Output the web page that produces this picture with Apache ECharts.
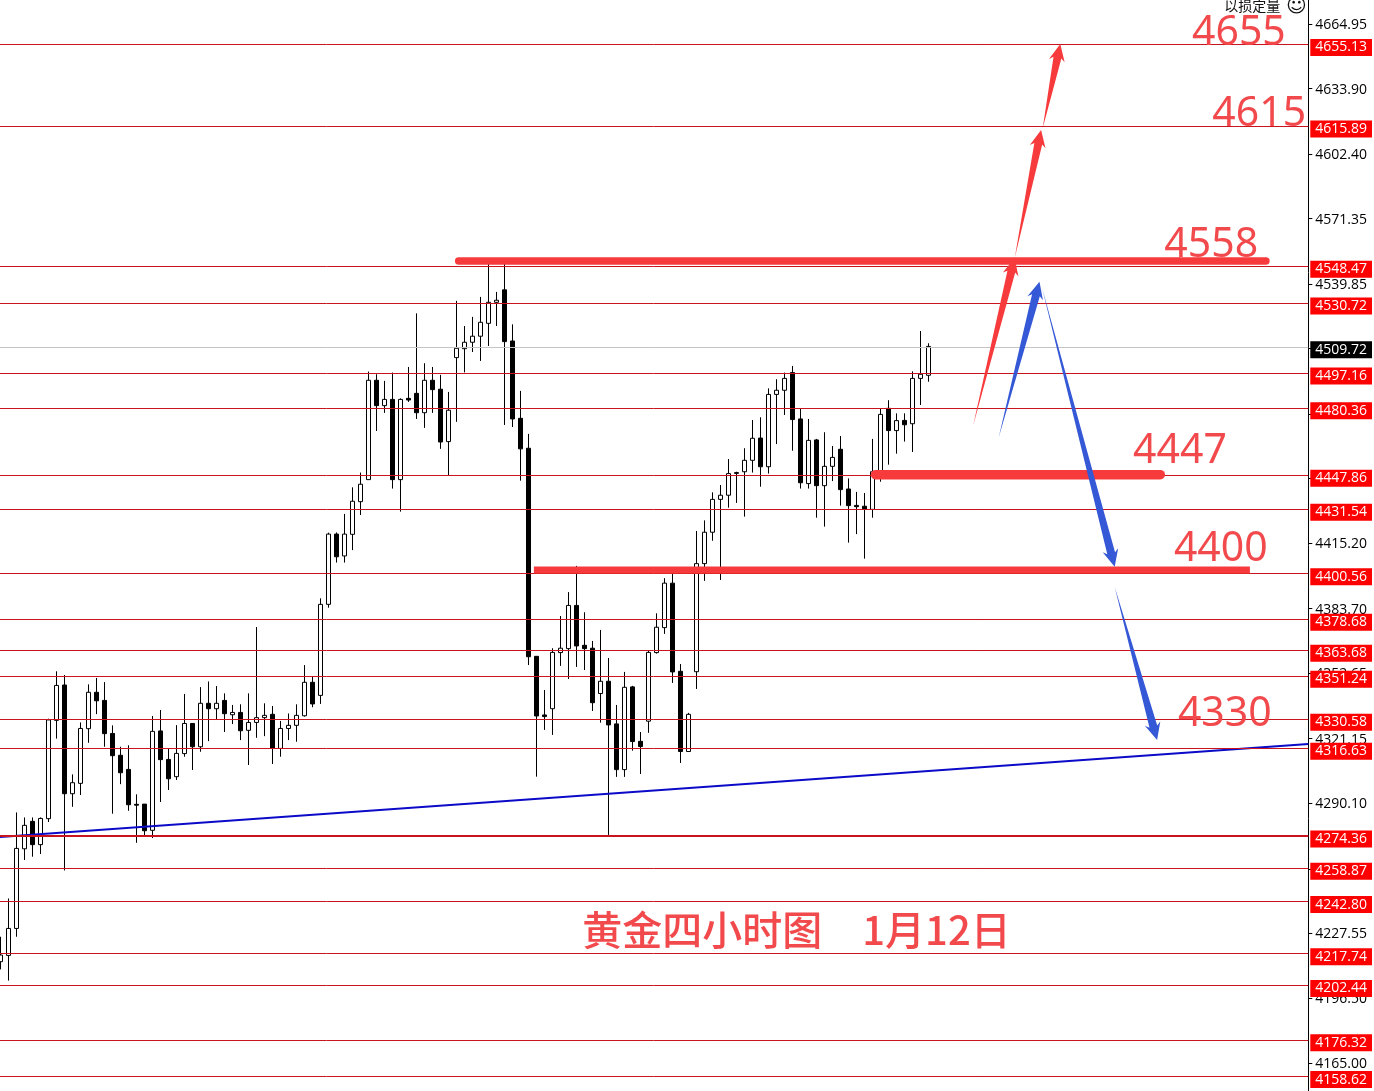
<!DOCTYPE html>
<html><head><meta charset="utf-8">
<style>html,body{margin:0;padding:0;background:#fff}#c{width:1374px;height:1091px}</style>
<script src="https://cdn.jsdelivr.net/npm/echarts@6/dist/echarts.min.js"></script>
</head><body><div id="c"></div>
<script>
const opens=[4213.9,4216.9,4229.9,4268.2,4281.4,4270.2,4282.7,4330.0,4347.0,4294.7,4299.7,4326.0,4343.5,4339.6,4323.7,4313.2,4306.4,4289.6,4289.7,4277.1,4324.9,4311.2,4302.9,4314.0,4328.5,4317.3,4338.2,4335.6,4339.6,4332.7,4333.8,4325.2,4329.0,4331.3,4332.9,4316.5,4326.1,4327.6,4332.2,4348.3,4342.0,4385.8,4419.6,4409.1,4419.5,4435.2,4445.8,4493.6,4481.4,4484.4,4445.8,4484.9,4487.3,4478.0,4493.6,4489.3,4464.1,4504.5,4508.8,4511.9,4514.8,4521.0,4531.1,4537.1,4512.5,4475.3,4460.9,4360.8,4332.6,4335.6,4362.6,4364.5,4385.3,4366.1,4364.7,4342.9,4348.8,4328.3,4306.3,4346.1,4319.9,4329.6,4362.6,4374.6,4396.0,4353.6,4315.0,4353.4,4405.4,4420.5,4436.3,4438.3,4448.8,4449.6,4455.1,4465.8,4452.0,4486.8,4488.8,4497.3,4475.0,4443.9,4464.9,4442.9,4452.2,4460.4,4441.3,4433.4,4433.0,4431.5,4449.6,4480.1,4469.4,4474.3,4472.7,4494.5,4496.0];
const closes=[4217.1,4229.9,4268.4,4279.5,4270.2,4282.8,4330.2,4346.8,4294.7,4300.0,4326.1,4343.5,4339.4,4323.6,4313.0,4304.8,4289.4,4289.2,4276.9,4324.7,4311.1,4301.9,4314.1,4328.5,4317.3,4338.2,4335.6,4338.2,4333.2,4333.8,4325.0,4329.0,4331.3,4332.4,4316.7,4326.1,4327.6,4332.4,4348.3,4337.9,4385.8,4419.6,4408.7,4419.6,4435.4,4443.6,4493.6,4481.4,4484.4,4445.8,4484.4,4484.1,4478.0,4493.6,4489.1,4463.9,4479.2,4509.0,4511.9,4514.8,4521.5,4531.1,4532.1,4512.2,4475.0,4460.6,4360.6,4332.1,4331.8,4362.7,4364.7,4385.3,4365.8,4364.5,4338.5,4348.8,4327.8,4306.3,4345.9,4319.8,4317.4,4362.7,4374.8,4396.0,4353.3,4315.0,4332.9,4405.4,4420.5,4436.3,4438.3,4448.7,4449.2,4455.1,4465.7,4452.0,4486.8,4488.8,4494.5,4474.7,4444.3,4464.7,4442.9,4452.2,4456.5,4441.0,4433.3,4432.8,4431.7,4449.6,4477.2,4469.4,4474.2,4472.2,4494.5,4496.5,4509.9];
const lows=[4210.2,4204.8,4225.9,4262.8,4264.4,4265.7,4281.1,4321.2,4257.8,4288.4,4294.1,4319.2,4333.0,4317.3,4285.1,4299.3,4286.5,4271.1,4274.7,4273.4,4290.7,4296.5,4301.3,4312.5,4306.1,4314.9,4320.0,4330.6,4324.4,4328.2,4320.5,4308.5,4321.6,4322.4,4309.0,4312.5,4320.5,4319.7,4331.8,4336.3,4337.9,4384.2,4405.9,4405.9,4411.9,4428.8,4445.8,4469.2,4477.9,4441.5,4430.4,4483.2,4475.0,4470.7,4477.9,4460.6,4447.9,4473.6,4497.4,4507.2,4502.9,4510.1,4519.7,4472.1,4471.1,4445.3,4356.6,4302.9,4325.4,4323.0,4356.2,4349.9,4355.7,4354.2,4334.5,4328.9,4274.9,4302.8,4302.8,4315.4,4304.2,4324.0,4362.1,4371.6,4348.0,4309.5,4315.0,4345.1,4397.1,4416.4,4397.5,4432.3,4434.6,4428.0,4449.2,4442.4,4448.7,4462.9,4476.9,4459.7,4441.5,4441.5,4427.5,4423.2,4445.1,4433.3,4415.5,4419.6,4407.8,4427.5,4444.8,4453.0,4458.3,4464.1,4459.1,4481.7,4492.9];
const highs=[4225.9,4244.3,4285.7,4283.3,4283.3,4283.3,4330.8,4353.6,4351.8,4304.0,4329.0,4347.3,4350.4,4348.4,4327.6,4317.3,4318.0,4294.4,4289.7,4332.1,4335.0,4316.4,4327.7,4342.7,4328.5,4346.0,4348.7,4346.5,4343.0,4337.4,4337.7,4343.0,4374.9,4338.2,4336.9,4329.7,4333.3,4337.7,4356.6,4351.0,4388.7,4420.3,4420.4,4429.3,4442.1,4449.2,4497.8,4496.5,4493.3,4497.3,4484.9,4500.0,4525.8,4501.8,4500.0,4496.2,4488.0,4531.8,4519.7,4524.1,4533.7,4550.5,4536.1,4550.5,4520.5,4488.5,4467.8,4360.8,4344.6,4364.7,4380.2,4391.7,4404.3,4382.0,4368.2,4373.5,4360.0,4337.4,4353.3,4346.6,4324.4,4363.4,4381.5,4398.4,4400.8,4357.1,4333.6,4421.1,4426.2,4439.7,4443.2,4455.7,4449.6,4460.9,4474.5,4475.8,4489.7,4494.1,4497.3,4500.5,4480.1,4475.0,4465.4,4468.6,4462.0,4466.8,4446.4,4439.9,4439.4,4465.4,4479.8,4484.0,4477.7,4477.7,4497.9,4517.3,4511.4];
const redLevels=[4655.13,4615.89,4548.47,4530.72,4497.16,4480.36,4447.86,4431.54,4400.56,4378.68,4363.68,4351.24,4330.58,4316.63,4274.36,4258.87,4242.80,4217.74,4202.44,4176.32,4158.62];
const currentPrice=4509.72;
const axisTicks=[4664.95,4633.90,4602.40,4571.35,4539.85,4508.80,4477.30,4446.25,4415.20,4383.70,4352.65,4321.15,4290.10,4258.60,4227.55,4196.50,4165.00];
const trendLine=[[-0.04,4273.9],[163.5,4318.6]];
const thickLines=[[57.3,4551.0,158.2,4551.0],[109.4,4448.2,145.0,4448.2],[66.7,4402.3,156.2,4402.3]];
const redArrows=[[121.6,4471.7,126.8,4552.4],[126.8,4552.4,130.1,4614.0],[130.3,4614.9,132.5,4655.4]];
const blueArrows=[[124.8,4466.1,129.9,4541.0],[130.2,4538.4,139.3,4403.9],[139.3,4394.1,144.6,4320.5]];
const bigNotes=[[148.96,4660.6,'4655'],[151.5,4621.6,'4615'],[145.5,4558.6,'4558'],[141.6,4459.5,'4447'],[146.7,4412.4,'4400'],[147.2,4333.0,'4330']];
const captionNotes=[[72.75,4229.1,'黄金四小时图　1月12日']];
const cornerNotes=[[153,4673.8,'以损定量']];
const smileNotes=[[160.7,4673.2,'☺']];

const slots=164;
const categories=Array.from({length:slots},(_,i)=>String(i));
const candles=opens.map((o,i)=>[o,closes[i],lows[i],highs[i]]);
const chart=echarts.init(document.getElementById('c'),null,{renderer:'canvas'});

function arrowItem(params,api){
  const a=api.coord([api.value(0),api.value(1)]),b=api.coord([api.value(2),api.value(3)]);
  const dx=b[0]-a[0],dy=b[1]-a[1],L=Math.hypot(dx,dy),ux=dx/L,uy=dy/L,nx=-uy,ny=ux;
  const hl=17,hw=8,sw=4;
  const bx=b[0]-ux*hl,by=b[1]-uy*hl,nk=b[0]-ux*(hl-3),nl=b[1]-uy*(hl-3);
  return {type:'polygon',shape:{points:[
    a,[nk+nx*sw,nl+ny*sw],[bx+nx*hw,by+ny*hw],b,[bx-nx*hw,by-ny*hw],[nk-nx*sw,nl-ny*sw]]},
    style:{fill:api.visual('color')}};
}
const thickW=[7.5,9.5,7];
function thickItem(params,api){
  const a=api.coord([api.value(0),api.value(1)]),b=api.coord([api.value(2),api.value(3)]);
  return {type:'line',shape:{x1:a[0],y1:a[1],x2:b[0],y2:b[1]},
    style:{stroke:'#f73a3c',lineWidth:thickW[params.dataIndex],lineCap:params.dataIndex===2?'butt':'round'}};
}
function noteItem(font,fill){
  return function(params,api){
    const p=api.coord([api.value(0),api.value(1)]);
    return {type:'text',style:{x:p[0],y:p[1],text:api.value(2),font:font,fill:fill,textAlign:'left',textVerticalAlign:'middle'}};
  };
}
const lvlLabel=(v,bg)=>({show:true,position:'end',distance:2,offset:[0,3],formatter:v.toFixed(2),color:'#fff',backgroundColor:bg,
  padding:[1,5,0,5],lineHeight:16,fontFamily:'Open Sans',fontSize:14});
const custom=(data,render,z,extra)=>Object.assign({type:'custom',xAxisIndex:1,yAxisIndex:0,data:data,renderItem:render,z:z,silent:true,animation:false,
  encode:{x:0,y:1},dimensions:['a','b','c','d'],tooltip:{show:false}},extra||{});

chart.setOption({
  animation:false,backgroundColor:'#fff',
  grid:{left:-3.7,top:0,width:1312,height:1091,containLabel:false,outerBoundsMode:'none'},
  xAxis:[
    {type:'category',data:categories,show:false,boundaryGap:true},
    {type:'value',min:-0.5,max:163.5,show:false}
  ],
  yAxis:{type:'value',position:'right',min:4151.69,max:4676.54,scale:true,splitLine:{show:false},
    axisLine:{show:true,onZero:false,lineStyle:{color:'#000',width:1}},
    axisTick:{show:true,length:4,customValues:axisTicks,lineStyle:{color:'#000'}},
    axisLabel:{customValues:axisTicks,margin:7,color:'#000',fontFamily:'Open Sans',fontSize:14,
      rich:{t:{padding:[2,0,0,0],color:'#000',fontFamily:'Open Sans',fontSize:14}},
      formatter:v=>'{t|'+Number(v).toFixed(2)+'}'}},
  series:[
    {type:'candlestick',xAxisIndex:0,yAxisIndex:0,data:candles,barWidth:5,z:2,silent:true,
      itemStyle:{color:'#fff',color0:'#000',borderColor:'#000',borderColor0:'#000',borderWidth:1},
      markLine:{silent:true,symbol:'none',animation:false,precision:2,
        data:[{yAxis:currentPrice,lineStyle:{color:'#c4c4c4',width:1,type:'solid'},label:lvlLabel(currentPrice,'#000')}]
          .concat(redLevels.map(v=>({yAxis:v,lineStyle:{color:'#c8141e',width:v===4274.36?2:1,type:'solid'},label:lvlLabel(v,'#ff0000')})))}},
    {type:'line',xAxisIndex:1,yAxisIndex:0,data:trendLine,showSymbol:false,symbol:'none',silent:true,z:4,lineStyle:{color:'#0a0ac8',width:2}},
    custom(thickLines,thickItem,5),
    custom(redArrows,arrowItem,6,{itemStyle:{color:'#f73a3c'}}),
    custom(blueArrows,arrowItem,7,{itemStyle:{color:'#3558d6'}}),
    custom(bigNotes,noteItem('41px "Noto Sans"','#f24a4c'),8),
    custom(captionNotes,noteItem('500 40px "Noto Sans CJK SC"','#f24a4c'),8),
    custom(cornerNotes,noteItem('14px "Noto Sans CJK SC"','#111'),8),
    custom(smileNotes,noteItem('20px "DejaVu Sans"','#111'),8)
  ]
});
</script></body></html>
